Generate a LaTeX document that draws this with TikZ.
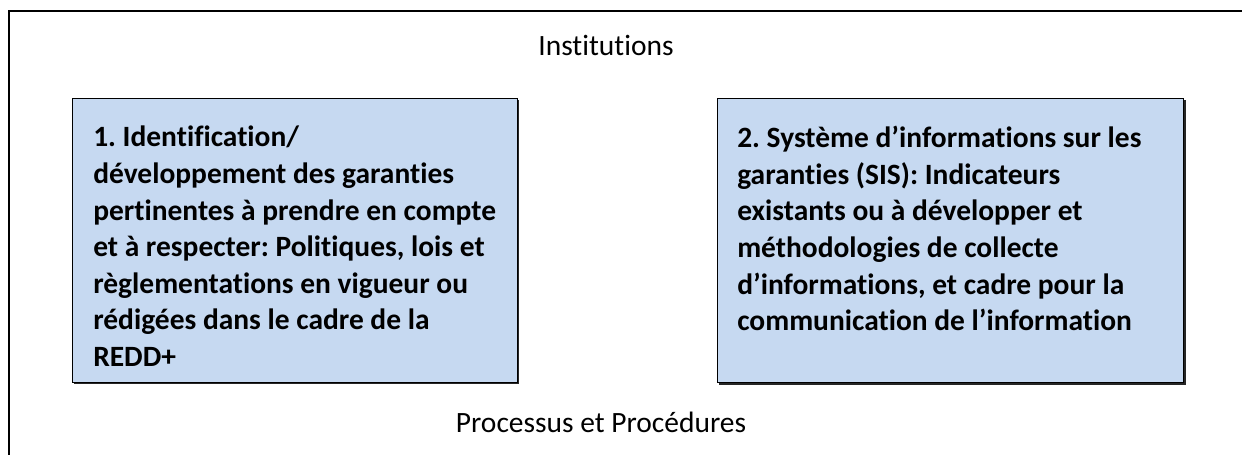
\documentclass[tikz,border=0pt]{standalone}
\usepackage{fontspec}
\setmainfont{Carlito}[RawFeature={-liga;-clig}]
\frenchspacing
\definecolor{panelfill}{HTML}{C6D9F1}
\begin{document}
\begin{tikzpicture}[x=0.75pt,y=-0.75pt,
  panel/.style={draw=black, line width=1.1pt, fill=panelfill, anchor=north west,
    inner sep=0pt, minimum height=213pt},
  panelshadow/.style={fill=black!85},
  paneltext/.style={anchor=north west, inner sep=0pt, align=left,
    font=\fontsize{22.1pt}{27.45pt}\selectfont\bfseries},
  plaintext/.style={inner sep=0pt, anchor=base,
    font=\fontsize{22.1pt}{27.45pt}\selectfont}]
\useasboundingbox (0,0) rectangle (1242,454);
\fill[white] (0,0) rectangle (1242,454);
% outer frame, running off the right and bottom edges
\begin{scope}
  \clip (0,0) rectangle (1242,454);
  \draw[line width=1.5pt] (9,11) rectangle (1270,490);
\end{scope}
% drop shadows of the two panels
\fill[panelshadow] (74,100) rectangle (519,384);
\fill[panelshadow] (719,100) rectangle (1185.5,384.5);
% panels
\node[panel, minimum width=333.75pt] (b1) at (72,98) {};
\node[panel, minimum width=349.5pt] (b2) at (717,98) {};
% panel texts
\node[paneltext] (t1) at (93,126) {1. Identification/\\
développement des garanties\\
pertinentes à prendre en compte\\
et à respecter: Politiques, lois et\\
règlementations en vigueur ou\\
rédigées dans le cadre de la\\
REDD+};
\node[paneltext] (t2) at (737,126) {2. Système d’informations sur les\\
garanties (SIS): Indicateurs\\
existants ou à développer et\\
méthodologies de collecte\\
d’informations, et cadre pour la\\
communication de l’information};
% captions
\node[plaintext] (inst) at (606,55) {Institutions};
\node[plaintext] (proc) at (601,432) {Processus et Procédures};
\end{tikzpicture}
\end{document}
